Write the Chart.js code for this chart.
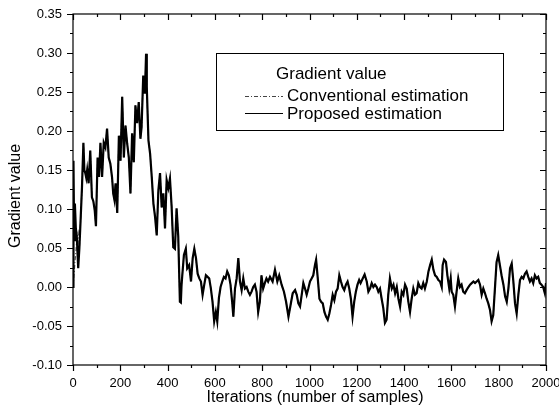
<!DOCTYPE html>
<html>
<head>
<meta charset="utf-8">
<script src="https://cdn.jsdelivr.net/npm/chart.js@4/dist/chart.umd.min.js"></script>
<style>
  html, body { margin: 0; padding: 0; background: #fff; }
  #wrap { width: 559px; height: 412px; }
</style>
</head>
<body>
<div id="wrap"><canvas id="gradient-chart"></canvas></div>
<script>
const iterations = [
  0, 2, 5, 8, 12, 16, 22, 27, 32, 38, 44, 48, 52, 56, 60, 66, 73, 80, 86, 92,
  97, 104, 110, 116, 123, 130, 137, 144, 151, 158, 165, 170, 175, 180, 187, 194, 201, 208, 215, 222,
  229, 236, 243, 250, 257, 264, 271, 278, 285, 290, 297, 304, 309, 312, 319, 326, 333, 340, 347, 354,
  361, 368, 375, 382, 389, 396, 403, 410, 417, 424, 431, 438, 445, 452, 456, 459, 469, 477, 483, 491,
  499, 506, 513, 520, 527, 534, 541, 548, 555, 562, 569, 576, 583, 590, 597, 604, 610, 617, 624, 631,
  638, 645, 652, 659, 666, 673, 678, 685, 692, 699, 706, 713, 720, 727, 734, 741, 748, 755, 762, 769,
  776, 783, 790, 797, 804, 811, 818, 825, 833, 844, 854, 864, 872, 882, 892, 901, 911, 920, 929, 939,
  946, 953, 960, 967, 974, 981, 988, 995, 1002, 1009, 1016, 1023, 1028, 1035, 1042, 1049, 1056, 1063, 1070, 1077,
  1084, 1091, 1098, 1105, 1112, 1119, 1126, 1133, 1140, 1147, 1154, 1161, 1168, 1175, 1182, 1189, 1196, 1203, 1210, 1216,
  1225, 1233, 1242, 1249, 1256, 1263, 1270, 1277, 1284, 1291, 1298, 1305, 1312, 1319, 1326, 1333, 1340, 1348, 1355, 1362,
  1369, 1376, 1383, 1390, 1397, 1404, 1411, 1418, 1425, 1432, 1439, 1446, 1453, 1460, 1467, 1474, 1481, 1488, 1496, 1503,
  1510, 1517, 1524, 1531, 1538, 1545, 1552, 1559, 1563, 1569, 1577, 1583, 1591, 1597, 1601, 1608, 1615, 1622, 1629, 1636,
  1643, 1650, 1657, 1664, 1672, 1679, 1686, 1693, 1700, 1707, 1714, 1721, 1728, 1735, 1742, 1749, 1756, 1763, 1770, 1777,
  1784, 1791, 1798, 1805, 1812, 1820, 1827, 1834, 1841, 1848, 1855, 1862, 1869, 1876, 1883, 1890, 1897, 1904, 1911, 1918,
  1925, 1932, 1939, 1946, 1953, 1960, 1967, 1974, 1981, 1988, 1995, 2000
];
const proposedValues = [
  0.0, 0.162, 0.06, 0.107, 0.075, 0.065, 0.024, 0.05, 0.085, 0.128, 0.185, 0.15, 0.146, 0.14, 0.15, 0.133, 0.175, 0.115, 0.11, 0.098,
  0.078, 0.166, 0.141, 0.185, 0.141, 0.185, 0.179, 0.203, 0.166, 0.158, 0.141, 0.12, 0.112, 0.133, 0.095, 0.194, 0.162, 0.244, 0.166, 0.207,
  0.184, 0.166, 0.12, 0.197, 0.16, 0.233, 0.21, 0.237, 0.19, 0.205, 0.271, 0.248, 0.299, 0.256, 0.188, 0.171, 0.141, 0.107, 0.09, 0.066,
  0.124, 0.146, 0.102, 0.12, 0.075, 0.137, 0.127, 0.139, 0.103, 0.051, 0.049, 0.101, 0.065, -0.019, -0.02, 0.003, 0.041, 0.049, 0.024, 0.028,
  0.007, 0.037, 0.049, 0.037, 0.017, 0.011, 0.007, -0.01, 0.003, 0.015, 0.013, 0.011, -0.002, -0.019, -0.044, -0.032, -0.044, -0.014, 0.0, 0.007,
  0.013, 0.011, 0.02, 0.015, 0.003, -0.019, -0.038, -0.002, 0.011, 0.037, 0.007, -0.004, 0.011, -0.002, 0.0, -0.006, -0.01, -0.006, 0.0, 0.003,
  -0.006, -0.032, -0.019, 0.015, -0.002, 0.005, 0.011, 0.007, 0.013, 0.007, 0.022, 0.007, 0.015, 0.003, -0.006, -0.019, -0.038, -0.023, -0.008, -0.004,
  -0.01, -0.021, -0.025, -0.01, 0.005, -0.002, -0.01, -0.002, 0.007, 0.011, 0.015, 0.028, 0.035, 0.011, -0.015, -0.019, -0.021, -0.032, -0.038, -0.042,
  -0.034, -0.023, -0.01, -0.017, -0.006, -0.002, 0.015, 0.007, 0.0, -0.004, 0.003, 0.007, -0.002, -0.015, -0.038, -0.019, -0.006, 0.003, 0.009, 0.005,
  0.011, 0.016, 0.007, -0.006, -0.002, 0.005, 0.0, 0.003, 0.0, -0.006, -0.002, -0.015, -0.027, -0.046, -0.042, -0.01, 0.011, -0.002, 0.003, -0.008,
  0.0, -0.015, -0.025, -0.006, -0.01, 0.003, -0.002, -0.019, -0.032, -0.015, -0.002, -0.01, -0.008, 0.005, 0.0, -0.002, 0.005, -0.002, 0.007, 0.02,
  0.028, 0.035, 0.022, 0.015, 0.013, 0.009, 0.007, 0.0, 0.028, 0.035, 0.032, 0.015, -0.002, 0.011, -0.006, -0.01, -0.025, -0.006, 0.011, 0.0,
  0.003, -0.006, -0.008, -0.004, 0.0, 0.003, 0.005, 0.007, 0.005, 0.007, 0.009, 0.003, -0.01, -0.002, -0.008, -0.015, -0.021, -0.029, -0.044, -0.036,
  -0.002, 0.032, 0.041, 0.028, 0.015, 0.003, -0.012, -0.019, -0.002, 0.024, 0.03, 0.007, -0.021, -0.034, -0.01, 0.009, 0.013, 0.011, 0.017, 0.02,
  0.013, 0.007, 0.011, 0.005, 0.015, 0.011, 0.013, 0.005, 0.003, 0.0, -0.008, 0.005
];
// conventional estimate only separates from the proposed one at the very start
const convStartIterations = [0, 4, 8, 13, 17, 22];
const convStartValues = [0.0, 0.015, 0.031, 0.048, 0.064, 0.07];
const convJoinIteration = 27;

const xTickValues = [0, 200, 400, 600, 800, 1000, 1200, 1400, 1600, 1800, 2000];
const yTickValues = [-0.10, -0.05, 0.00, 0.05, 0.10, 0.15, 0.20, 0.25, 0.30, 0.35];

const FONT = '"Liberation Sans", Arial, sans-serif';

const proposedPoints = iterations.map((x, i) => ({ x, y: proposedValues[i] }));
const conventionalPoints = convStartIterations
  .map((x, i) => ({ x, y: convStartValues[i] }))
  .concat(proposedPoints.filter(p => p.x >= convJoinIteration));

// box, inner/outer ticks, titles and legend, Origin style
const framePlugin = {
  id: 'frame',
  afterDatasetsDraw(chart) {
    const { ctx, chartArea: a, scales } = chart;
    const xs = scales.x, ys = scales.y;
    ctx.save();
    ctx.strokeStyle = '#000';
    ctx.lineWidth = 1.2;
    ctx.strokeRect(a.left, a.top, a.right - a.left, a.bottom - a.top);

    ctx.beginPath();
    for (let v = 0; v <= 2000; v += 100) {
      const px = Math.round(xs.getPixelForValue(v)) + 0.5;
      const len = v % 200 === 0 ? 6 : 3;
      ctx.moveTo(px, a.bottom); ctx.lineTo(px, a.bottom + len);
      ctx.moveTo(px, a.top); ctx.lineTo(px, a.top + len);
    }
    for (let k = 0; k <= 18; k++) {
      const v = -0.10 + k * 0.025;
      const py = Math.round(ys.getPixelForValue(v)) + 0.5;
      const len = k % 2 === 0 ? 6 : 3;
      ctx.moveTo(a.left, py); ctx.lineTo(a.left - len, py);
      ctx.moveTo(a.right, py); ctx.lineTo(a.right - len, py);
    }
    ctx.stroke();

    ctx.fillStyle = '#000';
    ctx.font = '16px ' + FONT;
    ctx.textAlign = 'center';
    ctx.textBaseline = 'middle';
    ctx.fillText('Iterations (number of samples)', 315, 398);
    ctx.save();
    ctx.translate(16, 196);
    ctx.rotate(-Math.PI / 2);
    ctx.fillText('Gradient value', 0, 0);
    ctx.restore();

    // legend
    ctx.lineWidth = 1;
    ctx.strokeRect(216.5, 53.5, 287, 77);
    ctx.font = '17px ' + FONT;
    ctx.textAlign = 'left';
    ctx.fillText('Gradient value', 276, 74);
    ctx.fillText('Conventional estimation', 287, 96);
    ctx.fillText('Proposed estimation', 287, 114);
    ctx.beginPath();
    ctx.strokeStyle = '#444';
    ctx.setLineDash([4, 2, 1, 2]);
    ctx.moveTo(245, 96.5); ctx.lineTo(283, 96.5);
    ctx.stroke();
    ctx.beginPath();
    ctx.strokeStyle = '#000';
    ctx.setLineDash([]);
    ctx.moveTo(245, 113.5); ctx.lineTo(283, 113.5);
    ctx.stroke();
    ctx.restore();
  }
};

new Chart(document.getElementById('gradient-chart'), {
  type: 'line',
  data: {
    datasets: [
      {
        label: 'Proposed estimation',
        data: proposedPoints,
        borderColor: '#000',
        borderWidth: 2.2,
        pointRadius: 0,
        tension: 0,
      },
      {
        label: 'Conventional estimation',
        data: conventionalPoints,
        borderColor: '#555',
        borderWidth: 1.2,
        borderDash: [4, 2, 1, 2],
        pointRadius: 0,
        tension: 0,
      }
    ]
  },
  options: {
    responsive: true,
    maintainAspectRatio: false,
    animation: false,
    devicePixelRatio: 1,
    layout: { padding: { top: 14, right: 13, left: 0, bottom: 0 } },
    plugins: {
      legend: { display: false },
      tooltip: { enabled: false },
    },
    scales: {
      x: {
        type: 'linear',
        min: 0,
        max: 2000,
        grid: { display: false, drawTicks: false },
        border: { display: false },
        afterBuildTicks: (s) => { s.ticks = xTickValues.map(v => ({ value: v })); },
        afterFit: (s) => { s.height = 47; s.paddingLeft = 0; s.paddingRight = 0; },
        ticks: {
          padding: 11,
          maxRotation: 0,
          autoSkip: false,
          color: '#000',
          font: { family: FONT, size: 13 },
          callback: (v) => String(v),
        },
      },
      y: {
        min: -0.10,
        max: 0.35,
        grid: { display: false, drawTicks: false },
        border: { display: false },
        afterBuildTicks: (s) => { s.ticks = yTickValues.map(v => ({ value: v })); },
        afterFit: (s) => { s.width = 73; s.paddingTop = 0; s.paddingBottom = 0; },
        ticks: {
          padding: 11,
          autoSkip: false,
          color: '#000',
          font: { family: FONT, size: 13 },
          callback: (v) => (Math.abs(v) < 1e-9 ? 0 : v).toFixed(2),
        },
      }
    }
  },
  plugins: [framePlugin]
});
</script>
</body>
</html>
